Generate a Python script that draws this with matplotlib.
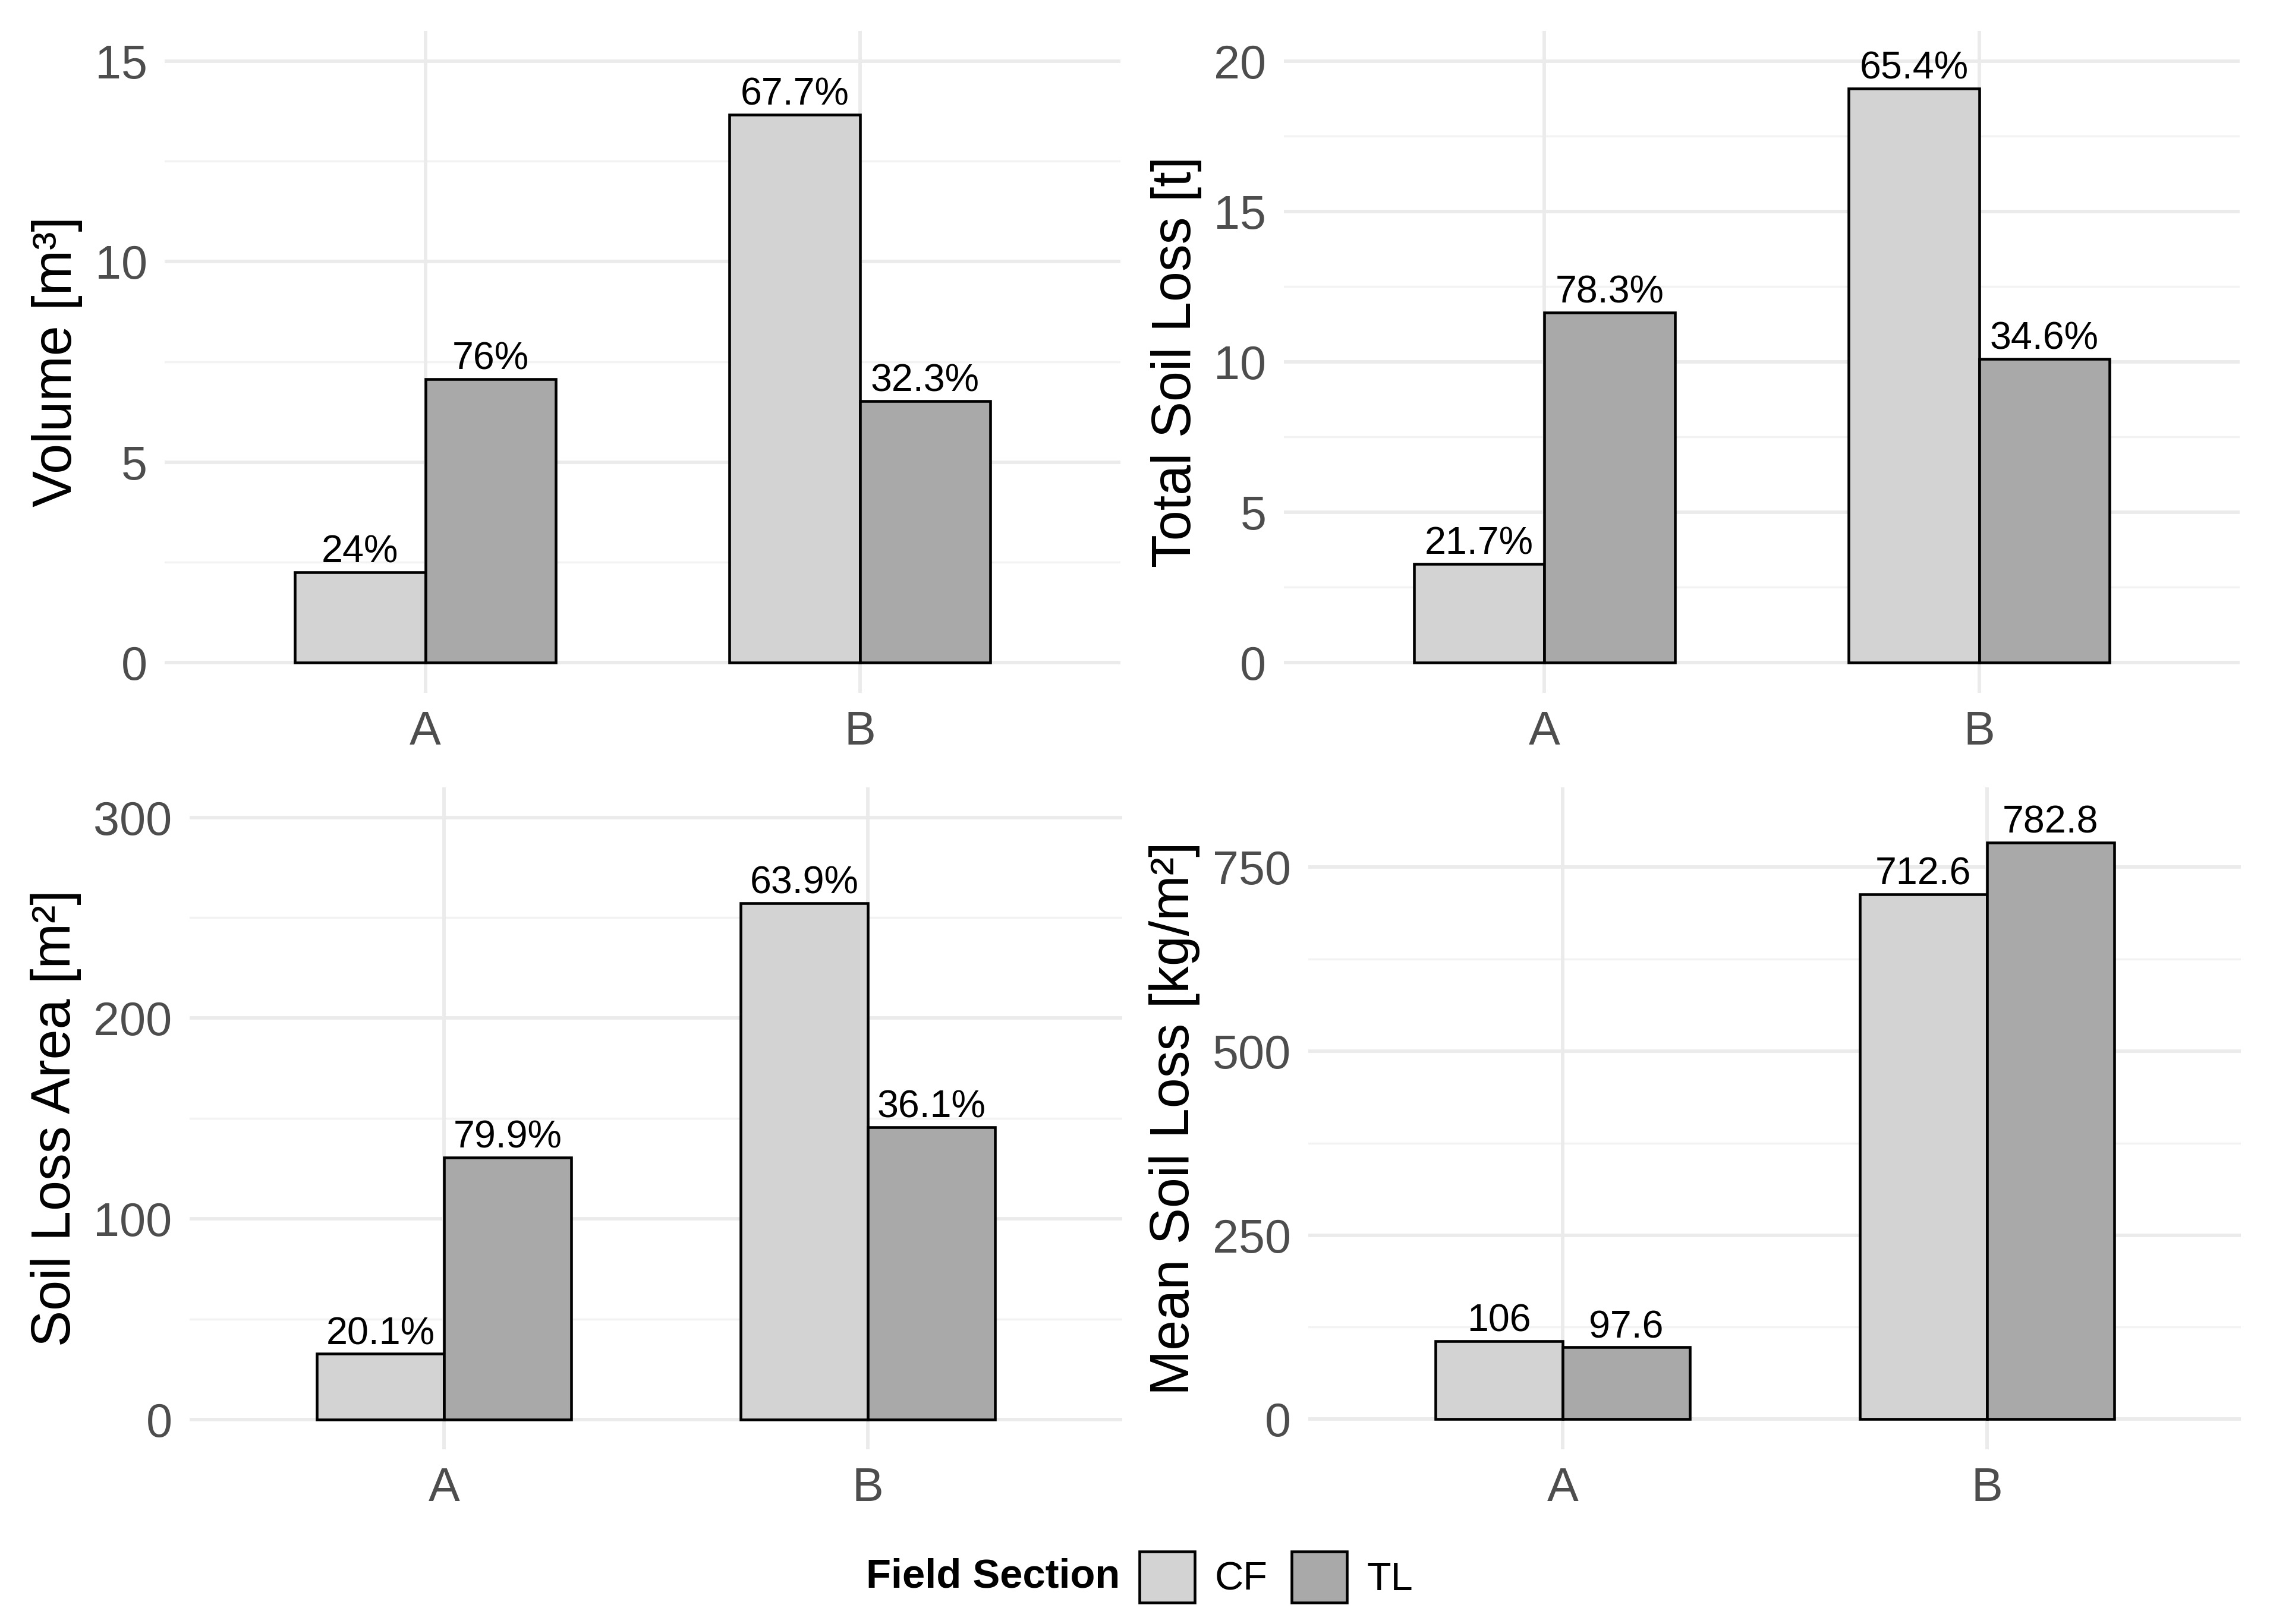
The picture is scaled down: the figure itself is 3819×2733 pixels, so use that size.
import matplotlib.pyplot as plt
from matplotlib.patches import Patch

plt.rcParams['font.family'] = ['Liberation Sans', 'DejaVu Sans']

sections = ["A", "B"]
cf_color = "#D3D3D3"
tl_color = "#A9A9A9"

volume_cf = [2.25, 13.66]
volume_tl = [7.07, 6.52]
volume_lab_cf = ["24%", "67.7%"]
volume_lab_tl = ["76%", "32.3%"]

total_cf = [3.28, 19.08]
total_tl = [11.64, 10.10]
total_lab_cf = ["21.7%", "65.4%"]
total_lab_tl = ["78.3%", "34.6%"]

area_cf = [32.6, 257.2]
area_tl = [130.4, 145.7]
area_lab_cf = ["20.1%", "63.9%"]
area_lab_tl = ["79.9%", "36.1%"]

mean_cf = [106.0, 712.6]
mean_tl = [97.6, 782.8]
mean_lab_cf = ["106", "712.6"]
mean_lab_tl = ["97.6", "782.8"]

fig = plt.figure(figsize=(3819 / 300, 2733 / 300), dpi=300)

panels = [
    # rect, cf, tl, labels cf, labels tl, ylabel, ylim, major, minor
    ([0.0725, 0.5735, 0.4212, 0.4075], volume_cf, volume_tl, volume_lab_cf, volume_lab_tl,
     "Volume [m³]", (-0.75, 15.75), [0, 5, 10, 15], [2.5, 7.5, 12.5]),
    ([0.5655, 0.5735, 0.4212, 0.4075], total_cf, total_tl, total_lab_cf, total_lab_tl,
     "Total Soil Loss [t]", (-1.0, 21.0), [0, 5, 10, 15, 20], [2.5, 7.5, 12.5, 17.5]),
    ([0.0835, 0.1075, 0.4109, 0.4077], area_cf, area_tl, area_lab_cf, area_lab_tl,
     "Soil Loss Area [m²]", (-15, 315), [0, 100, 200, 300], [50, 150, 250]),
    ([0.5764, 0.1075, 0.4109, 0.4077], mean_cf, mean_tl, mean_lab_cf, mean_lab_tl,
     "Mean Soil Loss [kg/m²]", (-41, 858), [0, 250, 500, 750], [125, 375, 625]),
]

x = [0, 1]
w = 0.3
for rect, cf, tl, lcf, ltl, ylab, ylim, major, minor in panels:
    ax = fig.add_axes(rect)
    for yv in minor:
        ax.axhline(yv, color="#F2F2F2", lw=0.8, zorder=0)
    for yv in major:
        ax.axhline(yv, color="#EBEBEB", lw=1.4, zorder=0)
    for xv in x:
        ax.axvline(xv, color="#EBEBEB", lw=1.4, zorder=0)
    xc = [xi - w / 2 for xi in x]
    xt = [xi + w / 2 for xi in x]
    ax.bar(xc, cf, width=w, color=cf_color, edgecolor="black", linewidth=1.1, zorder=2)
    ax.bar(xt, tl, width=w, color=tl_color, edgecolor="black", linewidth=1.1, zorder=2)
    off = (ylim[1] - ylim[0]) * 0.003
    for i in range(2):
        ax.text(xc[i], cf[i] + off, lcf[i], ha="center", va="bottom", fontsize=15.5, color="black")
        ax.text(xt[i], tl[i] + off, ltl[i], ha="center", va="bottom", fontsize=15.5, color="black")
    ax.set_xlim(-0.6, 1.6)
    ax.set_ylim(*ylim)
    ax.set_xticks(x)
    ax.set_xticklabels(sections)
    ax.set_yticks(major)
    ax.tick_params(length=0, labelsize=19, colors="#4D4D4D", pad=7)
    ax.set_ylabel(ylab, fontsize=22, color="black", labelpad=5)
    for s in ax.spines.values():
        s.set_visible(False)

fig.text(0.4935, 0.029, "Field Section", fontsize=16.5, fontweight="bold",
         ha="right", va="center")
handles = [Patch(facecolor=cf_color, edgecolor="black", linewidth=1.1, label="CF"),
           Patch(facecolor=tl_color, edgecolor="black", linewidth=1.1, label="TL")]
fig.legend(handles=handles, loc="center left", bbox_to_anchor=(0.502, 0.029), ncol=2,
           frameon=False, fontsize=16, handlelength=1.4, handleheight=1.6,
           handletextpad=0.5, columnspacing=0.6, borderaxespad=0, borderpad=0)

fig.savefig("out.png", dpi=300, facecolor="white")
